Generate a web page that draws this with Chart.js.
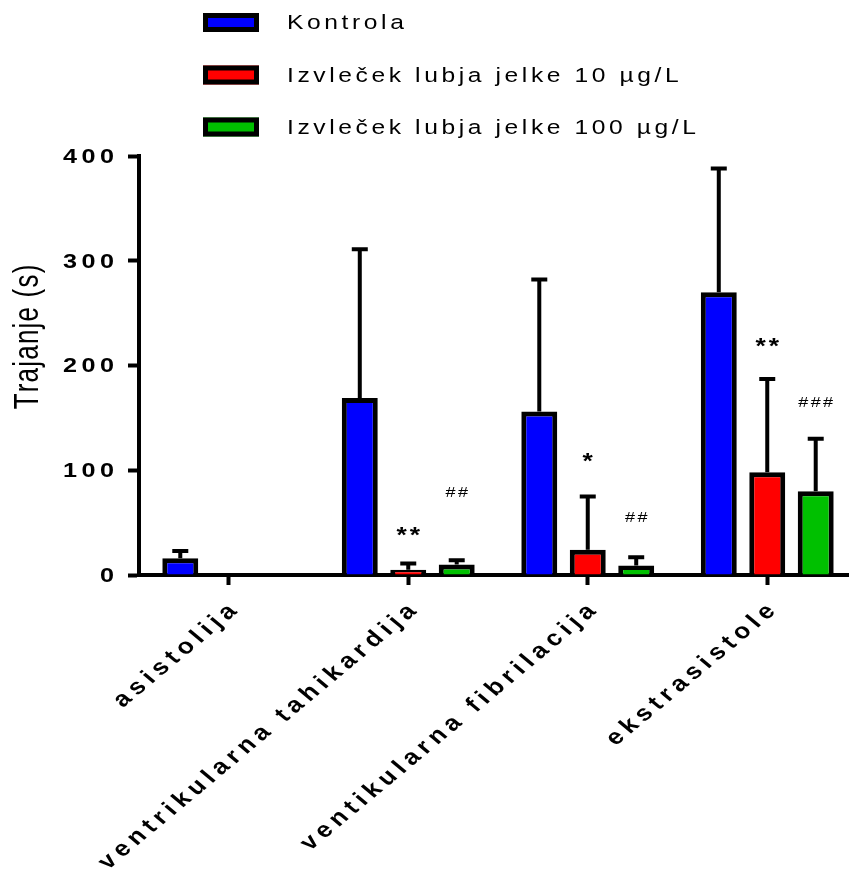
<!DOCTYPE html>
<html>
<head>
<meta charset="utf-8">
<style>
  html, body { margin: 0; padding: 0; background: #ffffff; overflow: hidden; }
  canvas { display: block; }
</style>
<script src="https://cdn.jsdelivr.net/npm/chart.js@4.4.0/dist/chart.umd.min.js"></script>
</head>
<body>
<canvas id="chart" width="870" height="870"></canvas>
<script>
// Arrhythmia durations (s): mean and upper SD per group
const categories = ['asistolija', 'ventrikularna tahikardija', 'ventikularna fibrilacija', 'ekstrasistole'];
const seriesNames = ['Kontrola', 'Izvleček lubja jelke 10 µg/L', 'Izvleček lubja jelke 100 µg/L'];

const kontrola = [16, 169, 156, 270];
const kontrolaSD = [7, 142, 126, 118];

const izvlecek10 = [null, 5, 24, 98];
const izvlecek10SD = [null, 6, 51, 89];

const izvlecek100 = [null, 10, 9, 80];
const izvlecek100SD = [null, 4, 8, 50];

const yTicks = [0, 100, 200, 300, 400];

// Significance marks: text, series index, category index, level on the y axis
const markText = ['**', '##', '*', '##', '**', '###'];
const markSeries = [1, 2, 1, 2, 1, 2];
const markCategory = [1, 1, 2, 2, 3, 3];
const markLevel = [37, 78, 108, 55, 218, 164];

const seriesColors = ['#0000ff', '#ff0000', '#00c000'];
const seriesValues = [kontrola, izvlecek10, izvlecek100];
const seriesSD = [kontrolaSD, izvlecek10SD, izvlecek100SD];

const FONT = '"Liberation Sans", Arial, Helvetica, sans-serif';
const SX = 1.2; // horizontal glyph stretch

// Draw spaced text char by char in a local frame (translate, stretch, rotate)
function drawSpaced(ctx, text, x, y, opts) {
  const { font, spacing = 0, rot = 0, align = 'left', baseline = 'middle', sx = SX } = opts;
  ctx.save();
  ctx.translate(x, y);
  ctx.scale(sx, 1);
  ctx.rotate(rot);
  ctx.font = font;
  ctx.fillStyle = '#000';
  ctx.textBaseline = baseline;
  ctx.textAlign = 'left';
  const chars = Array.from(text);
  const widths = chars.map(c => ctx.measureText(c).width);
  const total = widths.reduce((a, b) => a + b, 0) + spacing * (chars.length - 1);
  let cx = align === 'right' ? -total : align === 'center' ? -total / 2 : 0;
  chars.forEach((c, i) => {
    ctx.fillText(c, cx, 0);
    cx += widths[i] + spacing;
  });
  ctx.restore();
}

const errorBars = {
  id: 'errorBars',
  afterDatasetsDraw(chart) {
    const ctx = chart.ctx;
    const yScale = chart.scales.y;
    ctx.save();
    ctx.strokeStyle = '#000';
    ctx.lineWidth = 4;
    ctx.lineCap = 'butt';
    seriesValues.forEach((vals, i) => {
      const meta = chart.getDatasetMeta(i);
      vals.forEach((v, j) => {
        if (v === null || seriesSD[i][j] === null) return;
        const bar = meta.data[j];
        const yCap = yScale.getPixelForValue(v + seriesSD[i][j]);
        ctx.beginPath();
        ctx.moveTo(bar.x, bar.y);
        ctx.lineTo(bar.x, yCap);
        ctx.moveTo(bar.x - 8, yCap);
        ctx.lineTo(bar.x + 8, yCap);
        ctx.stroke();
      });
    });
    ctx.restore();
  }
};

const textLayer = {
  id: 'textLayer',
  afterDraw(chart) {
    const ctx = chart.ctx;
    const yScale = chart.scales.y;
    const xScale = chart.scales.x;

    // legend
    const rowY = [22.5, 75, 127];
    seriesNames.forEach((name, i) => {
      const cy = rowY[i];
      ctx.save();
      ctx.fillStyle = seriesColors[i];
      ctx.fillRect(203, cy - 9.5, 56, 19);
      ctx.strokeStyle = '#000';
      ctx.lineWidth = 5;
      ctx.strokeRect(205.5, cy - 7, 51, 14);
      ctx.restore();
      drawSpaced(ctx, name, 287, cy + 1, { font: '20.5px ' + FONT, spacing: 3.0 });
    });

    // y tick labels
    yTicks.forEach(v => {
      drawSpaced(ctx, String(v), 114, yScale.getPixelForValue(v) + 1,
        { font: 'bold 21px ' + FONT, spacing: 3.7, align: 'right' });
    });

    // y axis title
    drawSpaced(ctx, 'Trajanje (s)', 38, 337,
      { font: '26px ' + FONT, spacing: 1.2, rot: -Math.PI / 2, align: 'center', baseline: 'alphabetic', sx: 1.35 });

    // category labels
    categories.forEach((c, i) => {
      const x = xScale.getPixelForValue(i);
      drawSpaced(ctx, c, x + 4, 608,
        { font: 'bold 22px ' + FONT, spacing: 4.6, rot: -Math.PI / 4, align: 'right' });
    });

    // significance marks
    markText.forEach((t, k) => {
      const bar = chart.getDatasetMeta(markSeries[k]).data[markCategory[k]];
      const y = yScale.getPixelForValue(markLevel[k]);
      const isStar = t.indexOf('*') >= 0;
      drawSpaced(ctx, t, bar.x, y, {
        font: (isStar ? 'bold 22px ' : '15px ') + FONT,
        spacing: isStar ? 2.5 : 2,
        align: 'center'
      });
    });
  }
};

new Chart(document.getElementById('chart'), {
  type: 'bar',
  data: {
    labels: categories,
    datasets: seriesNames.map((name, i) => ({
      label: name,
      data: seriesValues[i],
      backgroundColor: seriesColors[i],
      borderColor: '#000',
      borderWidth: 5,
      borderSkipped: 'start',
      categoryPercentage: 0.81,
      barPercentage: 0.742
    }))
  },
  options: {
    responsive: false,
    animation: false,
    devicePixelRatio: 1,
    layout: { padding: { top: 156, right: 13, left: 0, bottom: 0 } },
    plugins: {
      legend: { display: false },
      tooltip: { enabled: false }
    },
    scales: {
      x: {
        grid: {
          offset: false,
          drawOnChartArea: false,
          drawTicks: true,
          tickLength: 10,
          tickWidth: 4,
          tickColor: '#000'
        },
        border: { display: true, width: 4, color: '#000' },
        ticks: { display: false },
        afterFit(scale) { scale.height = 295; }
      },
      y: {
        min: 0,
        max: 400,
        ticks: { display: false, stepSize: 100 },
        grid: {
          drawOnChartArea: false,
          drawTicks: true,
          tickLength: 11,
          tickWidth: 4,
          tickColor: '#000'
        },
        border: { display: true, width: 4, color: '#000' },
        afterFit(scale) { scale.width = 139; }
      }
    }
  },
  plugins: [errorBars, textLayer]
});
</script>
</body>
</html>
